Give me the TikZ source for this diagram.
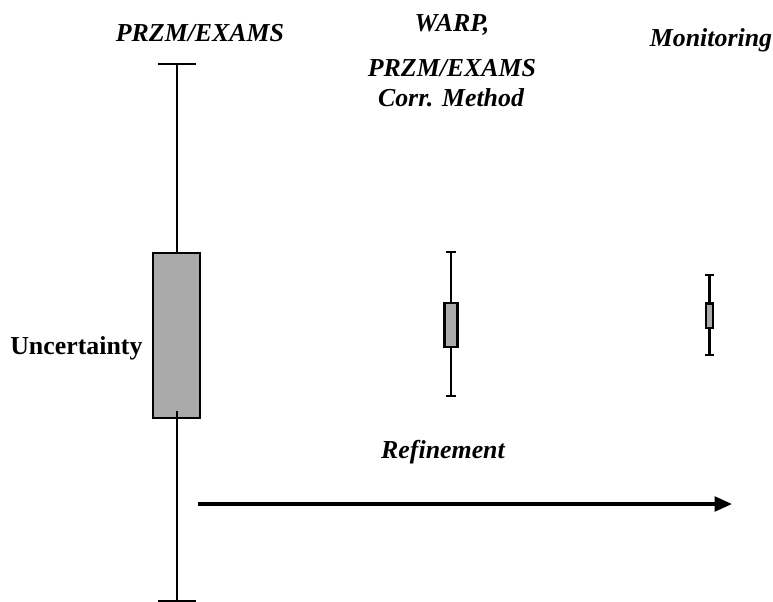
\documentclass[tikz,border=0pt]{standalone}
\usepackage{fontspec}
\setmainfont{Liberation Serif}
\usetikzlibrary{arrows.meta}
\definecolor{boxgray}{RGB}{170,170,170}
\begin{document}
\begin{tikzpicture}[x=0.75pt,y=-0.75pt,
  lbl/.style={font=\fontsize{19.4}{22}\selectfont\bfseries\itshape, inner sep=0pt},
  ulbl/.style={font=\fontsize{19.4}{22}\selectfont\bfseries, inner sep=0pt},
  whisk/.style={line width=1.8pt, line cap=butt},
  boxst/.style={draw=black, line width=1.8pt, fill=boxgray},
  arr/.style={line width=2.4pt, -{Triangle[length=13pt,width=11pt]}}]
\useasboundingbox (0,0) rectangle (773,602);
% labels
\node[lbl] (l1) at (200,33) {PRZM/EXAMS};
\node[lbl] (l2a) at (452,25) {WARP,};
\node[lbl] (l2b) at (452,68) {PRZM/EXAMS};
\node[lbl] (l2c) at (451,98) {Corr. Method};
\node[lbl] (l3) at (711,40) {Monitoring};
\node[ulbl, anchor=west] (unc) at (10,348) {Uncertainty};
\node[lbl] (ref) at (443,452) {Refinement};
% box plot 1
\coordinate (t1) at (177,64);
\coordinate (b1) at (177,601);
\draw[whisk] (158,64) -- (196,64);
\draw[whisk] (158,601) -- (196,601);
\draw[whisk] (t1) -- (b1);
\draw[boxst] (153,253) rectangle (200,418);
\draw[whisk] (177,411) -- (177,420);
% box plot 2
\coordinate (t2) at (451,252);
\coordinate (b2) at (451,396);
\draw[whisk] (446,252) -- (456,252);
\draw[whisk] (446,396) -- (456,396);
\draw[whisk] (t2) -- (b2);
\draw[boxst] (444.5,303) rectangle (457.5,347);
% box plot 3
\coordinate (t3) at (709.5,275);
\coordinate (b3) at (709.5,355);
\draw[whisk] (705,275) -- (714,275);
\draw[whisk] (705,355) -- (714,355);
\draw[whisk] (t3) -- (b3);
\draw[boxst] (706,303.5) rectangle (713,328);
% arrow
\coordinate (a0) at (198,504);
\coordinate (a1) at (732,504);
\draw[arr] (a0) -- (a1);
\end{tikzpicture}
\end{document}
